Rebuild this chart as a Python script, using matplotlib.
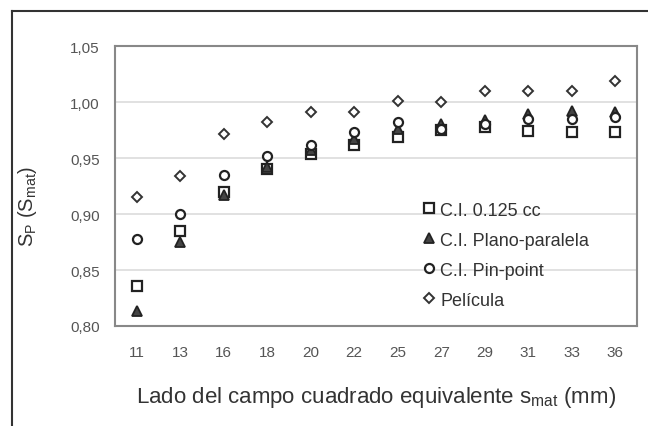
import matplotlib.pyplot as plt
from matplotlib.lines import Line2D

plt.rcParams['font.family'] = ['Liberation Sans', 'DejaVu Sans']

campos = ['11', '13', '16', '18', '20', '22', '25', '27', '29', '31', '33', '36']
ci_0125 = [0.836, 0.885, 0.920, 0.940, 0.954, 0.962, 0.969, 0.975, 0.978, 0.974, 0.973, 0.973]
ci_plano = [0.813, 0.875, 0.917, 0.942, 0.957, 0.967, 0.976, 0.980, 0.984, 0.989, 0.992, 0.991]
ci_pin = [0.878, 0.900, 0.935, 0.952, 0.962, 0.973, 0.982, 0.976, 0.980, 0.985, 0.985, 0.987]
pelicula = [0.915, 0.934, 0.971, 0.982, 0.991, 0.991, 1.001, 1.000, 1.010, 1.010, 1.010, 1.019]
y_ticks = [0.80, 0.85, 0.90, 0.95, 1.00, 1.05]

fig = plt.figure(figsize=(6.48, 4.27), dpi=100)
ax = fig.add_axes([115 / 648, 1 - 327 / 427, 522 / 648, 280 / 427])

x = [i + 0.5 for i in range(len(campos))]
ax.plot(x, ci_0125, ls='none', marker='s', ms=6.5, mfc='white', mec='#222', mew=1.6,
        label='C.I. 0.125 cc', zorder=3)
ax.plot(x, ci_plano, ls='none', marker='^', ms=6.5, mfc='#444', mec='#222', mew=1.3,
        label='C.I. Plano-paralela', zorder=4)
ax.plot(x, ci_pin, ls='none', marker='o', ms=6.5, mfc='white', mec='#222', mew=1.6,
        label='C.I. Pin-point', zorder=5)
ax.plot(x, pelicula, ls='none', marker='D', ms=5, mfc='white', mec='#333', mew=1.4,
        label='Película', zorder=6)

ax.set_xlim(0, len(campos))
ax.set_ylim(0.80, 1.05)
ax.set_xticks(x)
ax.set_xticklabels(campos)
ax.set_yticks(y_ticks)
ax.set_yticklabels([f'{v:.2f}'.replace('.', ',') for v in y_ticks])
ax.tick_params(axis='both', length=0, labelsize=11, colors='#555')
ax.tick_params(axis='y', pad=11)
ax.tick_params(axis='x', pad=14)
for v in y_ticks[1:-1]:
    ax.axhline(v, color='#dcdcdc', lw=1.2, zorder=1)
for s in ax.spines.values():
    s.set_color('#888')
    s.set_linewidth(1.5)

ax.set_xlabel('Lado del campo cuadrado equivalente s$_{\\mathregular{mat}}$ (mm)',
              fontsize=16, color='#333')
ax.xaxis.set_label_coords(0.5, -58 / 280, transform=ax.transAxes)
ax.set_ylabel('S$_{\\mathregular{P}}$ (S$_{\\mathregular{mat}}$)', fontsize=14.5,
              color='#333')
ax.yaxis.set_label_coords(-76 / 522, 0.43, transform=ax.transAxes)

leg = ax.legend(loc='upper left', bbox_to_anchor=(0.575, 0.47), frameon=False,
                fontsize=13, handlelength=0.7, handletextpad=0.3, labelspacing=0.72,
                labelcolor='#333', borderaxespad=0)

fig.add_artist(Line2D([12 / 648, 1], [1 - 12 / 427, 1 - 12 / 427], color='#333', lw=1.5))
fig.add_artist(Line2D([12 / 648, 12 / 648], [0, 1 - 12 / 427], color='#333', lw=1.5))

fig.savefig('out.png', dpi=100)
